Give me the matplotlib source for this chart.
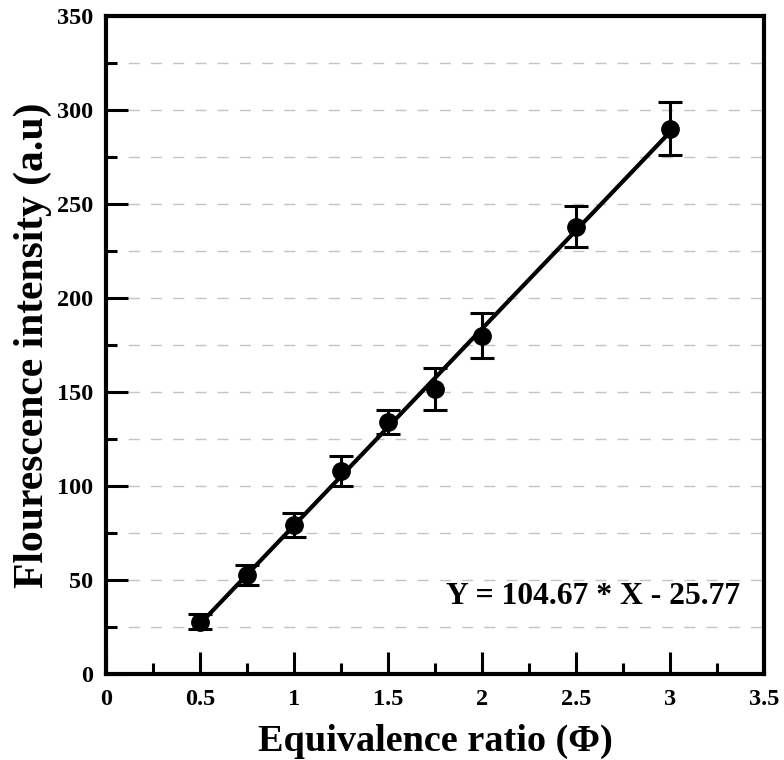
import numpy as np
import matplotlib.pyplot as plt
from matplotlib.ticker import MultipleLocator

# datos
phi = np.array([0.5, 0.75, 1.0, 1.25, 1.5, 1.75, 2.0, 2.5, 3.0])
intensidad = np.array([27.8, 52.5, 79.3, 108, 134, 151.5, 180, 238, 290])
error = np.array([4, 5.3, 6.5, 8, 6.2, 11, 12, 10.7, 14])

pendiente = 104.67
intercepto = -25.77
ecuacion = 'Y = 104.67 * X - 25.77'

plt.rcParams['font.family'] = ['Liberation Serif', 'DejaVu Serif']
plt.rcParams['font.weight'] = 'bold'

fig = plt.figure(figsize=(7.84, 7.6), dpi=100)
ax = fig.add_axes([0.135, 0.1132, 0.8395, 0.8658])

ax.yaxis.grid(True, which='both', color='#c4c4c4', linestyle=(0, (8, 8)), linewidth=1)
ax.set_axisbelow(True)

x_fit = np.array([phi.min(), phi.max()])
ax.plot(x_fit, pendiente * x_fit + intercepto, color='black', linewidth=3, zorder=3)
ax.errorbar(phi, intensidad, yerr=error, fmt='o', color='black', markersize=12.5,
            elinewidth=2.2, capsize=8.6, capthick=2.2, zorder=4)

ax.text(2.59, 41, ecuacion, fontsize=22.8, fontweight='bold', ha='center', va='center')

ax.set_xlim(0, 3.5)
ax.set_ylim(0, 350)
ax.xaxis.set_minor_locator(MultipleLocator(0.25))
ax.yaxis.set_major_locator(MultipleLocator(50))
ax.yaxis.set_minor_locator(MultipleLocator(25))
ax.set_xticks(np.arange(0, 3.51, 0.5))
ax.set_xticklabels(['0', '0.5', '1', '1.5', '2', '2.5', '3', '3.5'])

ax.tick_params(which='major', direction='in', length=16, width=2.2, labelsize=17.5)
ax.tick_params(axis='y', which='major', pad=9)
ax.tick_params(axis='x', which='major', pad=11)
ax.tick_params(which='minor', direction='in', length=8, width=2.2)
for lado in ax.spines.values():
    lado.set_linewidth(3)

ax.set_xlabel('Equivalence ratio (\u03a6)', fontsize=27.5, fontweight='bold', labelpad=10)
ax.set_ylabel('Flourescence intensity (a.u)', fontsize=30, fontweight='bold', labelpad=4)

fig.savefig('out.png', dpi=100)
